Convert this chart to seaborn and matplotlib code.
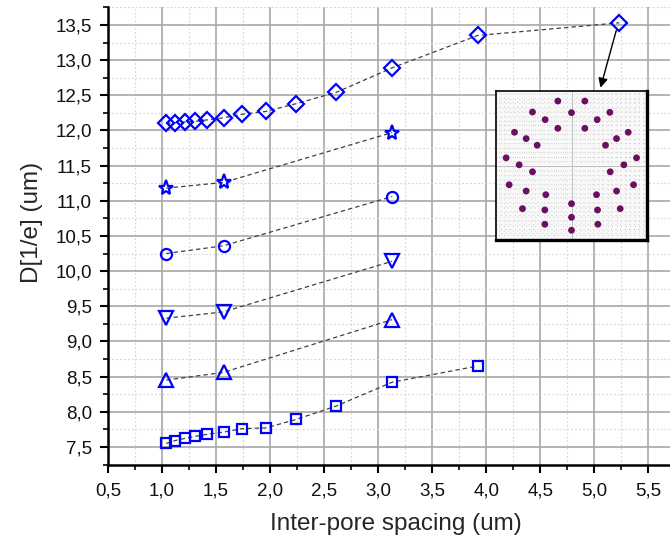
import numpy as np
import pandas as pd
import matplotlib
matplotlib.use('Agg')
import matplotlib.pyplot as plt
from matplotlib.ticker import MultipleLocator, FuncFormatter
import seaborn as sns

# spacing values (um)
x_long = [1.04, 1.12, 1.21, 1.31, 1.42, 1.57, 1.74, 1.96, 2.24, 2.61, 3.13, 3.92, 5.23]
x_short = [1.04, 1.57, 3.13]

diamond_y = [12.10, 12.11, 12.12, 12.13, 12.15, 12.18, 12.23, 12.27, 12.38, 12.54, 12.89, 13.35, 13.53]
star_y = [11.18, 11.26, 11.97]
circle_y = [10.25, 10.36, 11.06]
tri_down_y = [9.33, 9.42, 10.14]
tri_up_y = [8.45, 8.56, 9.31]
square_y = [7.55, 7.59, 7.62, 7.65, 7.68, 7.71, 7.76, 7.77, 7.89, 8.08, 8.42, 8.65]

# inset: pore positions (arbitrary units, centre = 0,0)
pore_x = [-41, 40, -117, 0, 115, -79, 77, -41, 40, -171, 170, -136, 135, -103, 102,
          -196, 195, -157, 157, -117, 116, -187, 186, -136, 135, -77, 75, 0,
          -147, 146, -80, 78, 0, -80, 79, 0]
pore_y = [195, 195, 162, 160, 161, 139, 139, 113, 113, 101, 101, 82, 82, 62, 62,
          24, 24, 3, 3, -18, -18, -57, -57, -76, -76, -87, -87, -114,
          -129, -129, -133, -133, -155, -176, -176, -194]

series = [
    ('diamond', x_long, diamond_y, 'D', 8.5),
    ('star', x_short, star_y, '*', 11),
    ('circle', x_short, circle_y, 'o', 8),
    ('tri_down', x_short, tri_down_y, 'v', 9.5),
    ('tri_up', x_short, tri_up_y, '^', 9.5),
    ('square', x_long[:-1], square_y, 's', 7.5),
]

sns.set_theme(style='white')
plt.rcParams['font.family'] = ['Liberation Sans', 'DejaVu Sans']

fig = plt.figure(figsize=(6.7, 5.41), dpi=100)
ax = fig.add_axes([0.161, 0.1414, 0.839, 0.845])

for name, xs, ys, mk, ms in series:
    df = pd.DataFrame({'x': xs, 'y': ys})
    sns.lineplot(data=df, x='x', y='y', ax=ax, sort=False, estimator=None,
                 color='#404040', linewidth=0.9, linestyle=(0, (3.5, 2.5)), zorder=3)
    ax.plot(df['x'], df['y'], linestyle='none', marker=mk, markersize=ms,
            markerfacecolor='none', markeredgecolor='#0000ff', markeredgewidth=1.6, zorder=4)

ax.set_xlim(0.5, 5.7)
ax.set_ylim(7.25, 13.75)
ax.xaxis.set_major_locator(MultipleLocator(0.5))
ax.xaxis.set_minor_locator(MultipleLocator(0.25))
ax.yaxis.set_major_locator(MultipleLocator(0.5))
ax.yaxis.set_minor_locator(MultipleLocator(0.25))
fmt = FuncFormatter(lambda v, p: f'{v:.1f}'.replace('.', ','))
ax.xaxis.set_major_formatter(fmt)
ax.yaxis.set_major_formatter(fmt)

ax.grid(True, which='major', color='#a8a8a8', linewidth=1.2, linestyle='-')
ax.grid(True, which='minor', color='#d4d4d4', linewidth=0.8, linestyle=(0, (1.5, 2)))
ax.set_axisbelow(True)

for s in ['top', 'right']:
    ax.spines[s].set_visible(False)
for s in ['left', 'bottom']:
    ax.spines[s].set_color('black')
    ax.spines[s].set_linewidth(1.8)

ax.tick_params(which='major', direction='out', length=6, width=1.5, color='black',
               labelsize=13.5, left=True, bottom=True, labelcolor='#111111')
ax.tick_params(axis='x', which='major', pad=7)
ax.tick_params(axis='y', which='major', pad=5.5)
ax.tick_params(which='minor', direction='out', length=3.5, width=1.2, color='black',
               left=True, bottom=True)
ax.set_xlabel('Inter-pore spacing (um)', fontsize=17.5, labelpad=10)
ax.set_ylabel('D[1/e] (um)', fontsize=17.5, labelpad=9)
ax.xaxis.label.set_x(0.512)
ax.yaxis.label.set_y(0.53)

# arrow from the last diamond to the inset
ax.annotate('', xy=(5.05, 12.57), xytext=(5.21, 13.46),
            arrowprops=dict(arrowstyle='-|>', color='black', linewidth=1.0,
                            mutation_scale=14), zorder=6)

# inset showing the pore arrangement
ins = fig.add_axes([0.741, 0.556, 0.224, 0.275])
ins.set_facecolor('#f8f8f8')
ins.set_xlim(-225, 225)
ins.set_ylim(-224, 224)
grid_ticks = np.arange(-216, 217, 13.5)
ins.set_xticks(grid_ticks)
ins.set_yticks(grid_ticks)
ins.tick_params(left=False, bottom=False, labelleft=False, labelbottom=False)
ins.grid(True, color='#bdbdbd', linewidth=0.6, linestyle=(0, (1, 4.5)))
ins.axhline(0, color='#c0c0c0', linewidth=0.7, zorder=1)
ins.axvline(0, color='#c0c0c0', linewidth=0.7, zorder=1)
sns.scatterplot(x=pore_x, y=pore_y, ax=ins, color='#6a0f62', s=24,
                edgecolor='none', zorder=3)
for s in ins.spines.values():
    s.set_visible(True)
    s.set_color('black')
    s.set_linewidth(1.2)
ins.spines['right'].set_linewidth(2.4)
ins.spines['bottom'].set_linewidth(2.4)

fig.savefig('out.png', dpi=100)
